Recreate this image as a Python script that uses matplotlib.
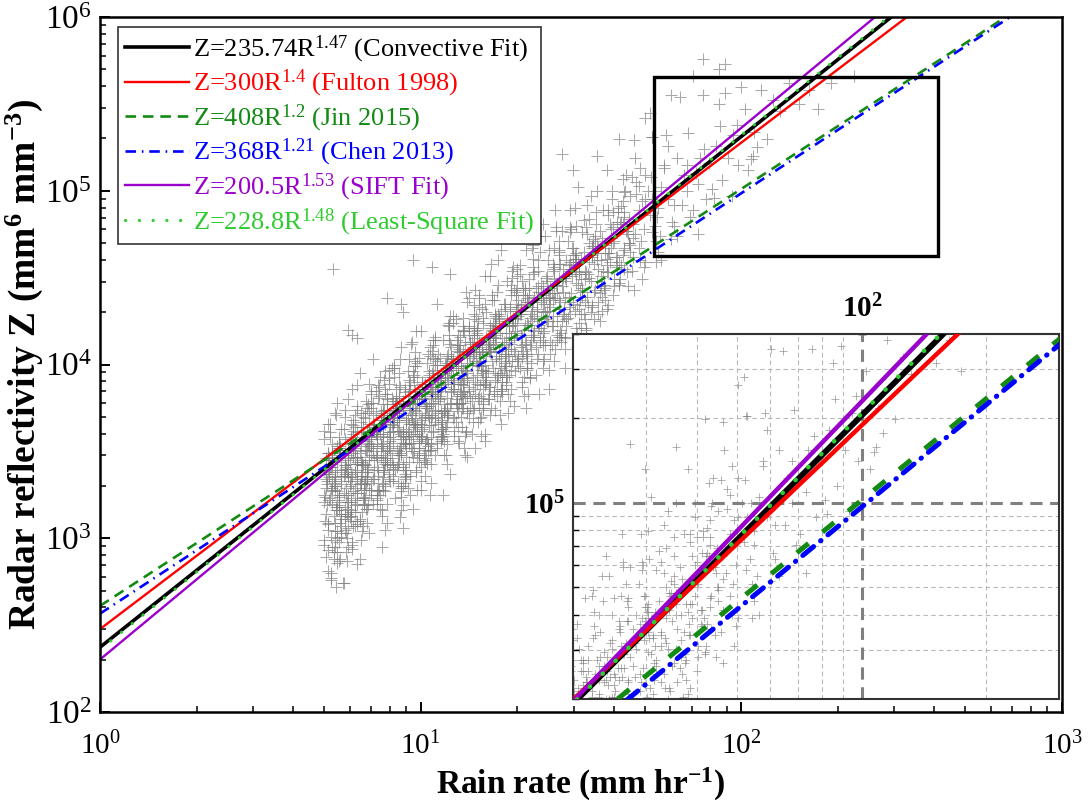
import numpy as np
import matplotlib
matplotlib.use("Agg")
import matplotlib.pyplot as plt
from matplotlib.patches import Rectangle
from matplotlib.ticker import NullFormatter

plt.rcParams['font.family'] = ['Liberation Serif', 'DejaVu Serif']
plt.rcParams['mathtext.fontset'] = 'custom'
plt.rcParams['mathtext.rm'] = 'Liberation Serif'
plt.rcParams['mathtext.it'] = 'Liberation Serif:italic'
plt.rcParams['mathtext.bf'] = 'Liberation Serif:bold'

# Z = a * R^b relations
coef_a = [235.74, 300, 408, 368, 200.5, 228.8]
coef_b = [1.47, 1.4, 1.2, 1.21, 1.53, 1.48]
sources = ['Convective Fit', 'Fulton 1998', 'Jin 2015', 'Chen 2013', 'SIFT Fit', 'Least-Square Fit']

# observed samples, log10 of rain rate (mm/hr) and reflectivity (mm^6 mm^-3)
rain_log10 = [
    0.720, 0.740, 0.710, 0.730, 0.700, 0.735, 0.715, 0.720, 0.740, 0.710, 0.730, 0.700, 0.735, 0.715, 0.720, 0.740, 0.710, 0.730, 0.700, 0.735, 0.715, 0.720, 0.740, 0.710, 0.730, 0.700, 0.735, 0.715, 0.720, 0.740,
    0.780, 0.750, 0.785, 0.765, 0.770, 0.790, 0.760, 0.780, 0.750, 0.785, 0.765, 0.770, 0.790, 0.760, 0.780, 0.750, 0.785, 0.765, 0.770, 0.790, 0.760, 0.780, 0.750, 0.785, 0.765, 0.770, 0.790, 0.760, 0.780, 0.750, 0.785, 0.765,
    0.815, 0.820, 0.840, 0.810, 0.830, 0.800, 0.835, 0.815, 0.820, 0.840, 0.810, 0.830, 0.800, 0.835, 0.815, 0.820, 0.840, 0.810, 0.830, 0.800, 0.835, 0.815, 0.820, 0.840, 0.810, 0.830, 0.800, 0.835, 0.815, 0.820, 0.840, 0.810,
    0.860, 0.880, 0.850, 0.885, 0.865, 0.870, 0.890, 0.860, 0.880, 0.850, 0.885, 0.865, 0.870, 0.890, 0.860, 0.880, 0.850, 0.885, 0.865, 0.870, 0.890, 0.860, 0.880, 0.850, 0.885, 0.865, 0.870, 0.890, 0.860, 0.880, 0.850, 0.885,
    0.935, 0.915, 0.920, 0.940, 0.910, 0.930, 0.900, 0.935, 0.915, 0.920, 0.940, 0.910, 0.930, 0.900, 0.935, 0.915, 0.920, 0.940, 0.910, 0.930, 0.900, 0.935, 0.915, 0.920, 0.940, 0.910, 0.930, 0.900, 0.935, 0.915, 0.920, 0.940,
    0.990, 0.960, 0.980, 0.950, 0.985, 0.965, 0.970, 0.990, 0.960, 0.980, 0.950, 0.985, 0.965, 0.970, 0.990, 0.960, 0.980, 0.950, 0.985, 0.965, 0.970, 0.990, 0.960, 0.980, 0.950, 0.985, 0.965, 0.970, 0.990, 0.960,
    1.000, 1.035, 1.015, 1.020, 1.040, 1.010, 1.030, 1.000, 1.035, 1.015, 1.020, 1.040, 1.010, 1.030, 1.000, 1.035, 1.015, 1.020, 1.040, 1.010, 1.030, 1.000, 1.035, 1.015, 1.020, 1.040, 1.010, 1.030, 1.000, 1.035,
    1.070, 1.090, 1.060, 1.080, 1.050, 1.085, 1.065, 1.070, 1.090, 1.060, 1.080, 1.050, 1.085, 1.065, 1.070, 1.090, 1.060, 1.080, 1.050, 1.085, 1.065, 1.070, 1.090, 1.060, 1.080, 1.050, 1.085, 1.065,
    1.130, 1.100, 1.135, 1.115, 1.120, 1.140, 1.110, 1.130, 1.100, 1.135, 1.115, 1.120, 1.140, 1.110, 1.130, 1.100, 1.135, 1.115, 1.120, 1.140, 1.110, 1.130, 1.100, 1.135, 1.115, 1.120, 1.140, 1.110,
    1.165, 1.170, 1.190, 1.160, 1.180, 1.150, 1.185, 1.165, 1.170, 1.190, 1.160, 1.180, 1.150, 1.185, 1.165, 1.170, 1.190, 1.160, 1.180, 1.150, 1.185, 1.165, 1.170, 1.190, 1.160, 1.180, 1.150,
    1.210, 1.230, 1.200, 1.235, 1.215, 1.220, 1.240, 1.210, 1.230, 1.200, 1.235, 1.215, 1.220, 1.240, 1.210, 1.230, 1.200, 1.235, 1.215, 1.220, 1.240, 1.210, 1.230, 1.200, 1.235, 1.215,
    1.285, 1.265, 1.270, 1.290, 1.260, 1.280, 1.250, 1.285, 1.265, 1.270, 1.290, 1.260, 1.280, 1.250, 1.285, 1.265, 1.270, 1.290, 1.260, 1.280, 1.250, 1.285, 1.265, 1.270, 1.290,
    1.340, 1.310, 1.330, 1.300, 1.335, 1.315, 1.320, 1.340, 1.310, 1.330, 1.300, 1.335, 1.315, 1.320, 1.340, 1.310, 1.330, 1.300, 1.335, 1.315, 1.320, 1.340, 1.310, 1.330,
    1.350, 1.385, 1.365, 1.370, 1.390, 1.360, 1.380, 1.350, 1.385, 1.365, 1.370, 1.390, 1.360, 1.380, 1.350, 1.385, 1.365, 1.370, 1.390, 1.360, 1.380, 1.350,
    1.420, 1.440, 1.410, 1.430, 1.400, 1.435, 1.415, 1.420, 1.440, 1.410, 1.430, 1.400, 1.435, 1.415, 1.420, 1.440, 1.410, 1.430, 1.400, 1.435, 1.415,
    1.480, 1.450, 1.485, 1.465, 1.470, 1.490, 1.460, 1.480, 1.450, 1.485, 1.465, 1.470, 1.490, 1.460, 1.480, 1.450, 1.485, 1.465, 1.470, 1.490,
    1.515, 1.520, 1.540, 1.510, 1.530, 1.500, 1.535, 1.515, 1.520, 1.540, 1.510, 1.530, 1.500, 1.535, 1.515, 1.520, 1.540, 1.510,
    1.560, 1.580, 1.550, 1.585, 1.565, 1.570, 1.590, 1.560, 1.580, 1.550, 1.585, 1.565, 1.570, 1.590, 1.560, 1.580, 1.550,
    1.635, 1.615, 1.620, 1.640, 1.610, 1.630, 1.600, 1.635, 1.615, 1.620, 1.640, 1.610, 1.630, 1.600, 1.635,
    1.690, 1.660, 1.680, 1.650, 1.685, 1.665, 1.670, 1.690, 1.660, 1.680, 1.650, 1.685, 1.665,
    1.700, 1.735, 1.715, 1.720, 1.740, 1.710, 1.730, 1.700, 1.735, 1.715, 1.720, 1.740,
    1.770, 1.790, 1.760, 1.780, 1.750, 1.785, 1.765, 1.770, 1.790, 1.760,
    1.830, 1.800, 1.835, 1.815, 1.820, 1.840, 1.810, 1.830, 1.800,
    1.865, 1.870, 1.890, 1.860, 1.880, 1.850, 1.885, 1.865,
    1.910, 1.930, 1.900, 1.935, 1.915, 1.920, 1.940,
    1.960, 1.985, 1.970, 1.950, 1.990, 1.975,
    2.010, 2.035, 2.000, 2.040, 2.020,
    0.727, 0.775, 0.800, 0.785, 0.895, 0.940, 0.945, 0.976, 1.035, 1.090, 1.240, 1.240, 1.440, 1.475, 1.490,
    0.710, 0.720, 0.757, 0.770, 0.800, 0.810, 0.880, 0.945, 0.976, 1.030, 1.070, 1.145,
    1.880, 1.930, 1.850, 1.950, 1.780, 1.700, 1.620, 1.550,
    2.060, 2.080, 2.100, 2.120, 2.150, 2.180, 2.210, 2.240, 2.280, 2.350, 2.030, 2.050,
    0.702, 0.708, 0.704, 0.712, 0.700, 0.706, 0.710, 0.702, 0.708, 0.704, 0.712, 0.700, 0.706, 0.710, 0.702, 0.708, 0.704, 0.712, 0.700, 0.706,
    0.745, 0.763, 0.733, 0.753, 0.725, 0.745, 0.763, 0.733, 0.753, 0.725, 0.745, 0.763, 0.733, 0.753, 0.725, 0.745, 0.763, 0.733, 0.753, 0.725, 0.745, 0.763, 0.733, 0.753, 0.725, 0.745, 0.763, 0.733, 0.753, 0.725, 0.745, 0.763, 0.733, 0.753, 0.725, 0.745,
    0.783, 0.803, 0.775, 0.795, 0.813, 0.783, 0.803, 0.775, 0.795, 0.813, 0.783, 0.803, 0.775, 0.795, 0.813, 0.783, 0.803, 0.775, 0.795, 0.813, 0.783, 0.803, 0.775, 0.795, 0.813, 0.783, 0.803, 0.775, 0.795, 0.813, 0.783, 0.803, 0.775, 0.795, 0.813, 0.783, 0.803, 0.775,
    0.825, 0.845, 0.863, 0.833, 0.853, 0.825, 0.845, 0.863, 0.833, 0.853, 0.825, 0.845, 0.863, 0.833, 0.853, 0.825, 0.845, 0.863, 0.833, 0.853, 0.825, 0.845, 0.863, 0.833, 0.853, 0.825, 0.845, 0.863, 0.833, 0.853, 0.825, 0.845, 0.863, 0.833, 0.853, 0.825, 0.845, 0.863,
    0.913, 0.883, 0.903, 0.875, 0.895, 0.913, 0.883, 0.903, 0.875, 0.895, 0.913, 0.883, 0.903, 0.875, 0.895, 0.913, 0.883, 0.903, 0.875, 0.895, 0.913, 0.883, 0.903, 0.875, 0.895, 0.913, 0.883, 0.903, 0.875, 0.895, 0.913, 0.883, 0.903, 0.875, 0.895, 0.913, 0.883, 0.903,
    0.953, 0.925, 0.945, 0.963, 0.933, 0.953, 0.925, 0.945, 0.963, 0.933, 0.953, 0.925, 0.945, 0.963, 0.933, 0.953, 0.925, 0.945, 0.963, 0.933, 0.953, 0.925, 0.945, 0.963, 0.933, 0.953, 0.925, 0.945, 0.963, 0.933, 0.953, 0.925, 0.945, 0.963, 0.933, 0.953,
    0.995, 1.013, 0.983, 1.003, 0.975, 0.995, 1.013, 0.983, 1.003, 0.975, 0.995, 1.013, 0.983, 1.003, 0.975, 0.995, 1.013, 0.983, 1.003, 0.975, 0.995, 1.013, 0.983, 1.003, 0.975, 0.995, 1.013, 0.983, 1.003, 0.975, 0.995, 1.013, 0.983, 1.003, 0.975, 0.995,
    1.033, 1.053, 1.025, 1.045, 1.063, 1.033, 1.053, 1.025, 1.045, 1.063, 1.033, 1.053, 1.025, 1.045, 1.063, 1.033, 1.053, 1.025, 1.045, 1.063, 1.033, 1.053, 1.025, 1.045, 1.063, 1.033, 1.053, 1.025, 1.045, 1.063, 1.033, 1.053, 1.025, 1.045,
    1.075, 1.095, 1.113, 1.083, 1.103, 1.075, 1.095, 1.113, 1.083, 1.103, 1.075, 1.095, 1.113, 1.083, 1.103, 1.075, 1.095, 1.113, 1.083, 1.103, 1.075, 1.095, 1.113, 1.083, 1.103, 1.075, 1.095, 1.113, 1.083, 1.103, 1.075, 1.095, 1.113, 1.083,
    1.163, 1.133, 1.153, 1.125, 1.145, 1.163, 1.133, 1.153, 1.125, 1.145, 1.163, 1.133, 1.153, 1.125, 1.145, 1.163, 1.133, 1.153, 1.125, 1.145, 1.163, 1.133, 1.153, 1.125, 1.145, 1.163, 1.133, 1.153, 1.125, 1.145, 1.163, 1.133,
    1.203, 1.175, 1.195, 1.213, 1.183, 1.203, 1.175, 1.195, 1.213, 1.183, 1.203, 1.175, 1.195, 1.213, 1.183, 1.203, 1.175, 1.195, 1.213, 1.183, 1.203, 1.175, 1.195, 1.213, 1.183, 1.203, 1.175, 1.195, 1.213, 1.183, 1.203, 1.175,
    1.245, 1.263, 1.233, 1.253, 1.225, 1.245, 1.263, 1.233, 1.253, 1.225, 1.245, 1.263, 1.233, 1.253, 1.225, 1.245, 1.263, 1.233, 1.253, 1.225, 1.245, 1.263, 1.233, 1.253, 1.225, 1.245, 1.263, 1.233, 1.253, 1.225,
    1.283, 1.303, 1.275, 1.295, 1.313, 1.283, 1.303, 1.275, 1.295, 1.313, 1.283, 1.303, 1.275, 1.295, 1.313, 1.283, 1.303, 1.275, 1.295, 1.313, 1.283, 1.303, 1.275, 1.295, 1.313, 1.283, 1.303, 1.275,
    1.325, 1.345, 1.363, 1.333, 1.353, 1.325, 1.345, 1.363, 1.333, 1.353, 1.325, 1.345, 1.363, 1.333, 1.353, 1.325, 1.345, 1.363, 1.333, 1.353, 1.325, 1.345, 1.363, 1.333, 1.353, 1.325,
    1.413, 1.383, 1.403, 1.375, 1.395, 1.413, 1.383, 1.403, 1.375, 1.395, 1.413, 1.383, 1.403, 1.375, 1.395, 1.413, 1.383, 1.403, 1.375, 1.395, 1.413, 1.383, 1.403, 1.375,
    1.453, 1.425, 1.445, 1.463, 1.433, 1.453, 1.425, 1.445, 1.463, 1.433, 1.453, 1.425, 1.445, 1.463, 1.433, 1.453, 1.425, 1.445, 1.463, 1.433, 1.453, 1.425,
    1.495, 1.513, 1.483, 1.503, 1.475, 1.495, 1.513, 1.483, 1.503, 1.475, 1.495, 1.513, 1.483, 1.503, 1.475, 1.495, 1.513, 1.483, 1.503, 1.475,
    1.533, 1.553, 1.525, 1.545, 1.563, 1.533, 1.553, 1.525, 1.545, 1.563, 1.533, 1.553, 1.525, 1.545, 1.563, 1.533, 1.553, 1.525,
    1.575, 1.595, 1.613, 1.583, 1.603, 1.575, 1.595, 1.613, 1.583, 1.603, 1.575, 1.595, 1.613, 1.583, 1.603, 1.575,
    1.663, 1.633, 1.653, 1.625, 1.645, 1.663, 1.633, 1.653, 1.625, 1.645, 1.663, 1.633, 1.653, 1.625,
    0.732, 0.746, 0.723, 0.738, 0.717, 0.751, 0.732, 0.746, 0.723, 0.738, 0.717, 0.751, 0.732, 0.746, 0.723, 0.738, 0.717, 0.751, 0.732, 0.746, 0.723, 0.738, 0.717, 0.751, 0.732, 0.746, 0.723, 0.738, 0.717, 0.751,
    0.796, 0.773, 0.788, 0.767, 0.801, 0.782, 0.796, 0.773, 0.788, 0.767, 0.801, 0.782, 0.796, 0.773, 0.788, 0.767, 0.801, 0.782, 0.796, 0.773, 0.788, 0.767, 0.801, 0.782, 0.796, 0.773, 0.788, 0.767, 0.801, 0.782, 0.796, 0.773,
    0.823, 0.838, 0.817, 0.851, 0.832, 0.846, 0.823, 0.838, 0.817, 0.851, 0.832, 0.846, 0.823, 0.838, 0.817, 0.851, 0.832, 0.846, 0.823, 0.838, 0.817, 0.851, 0.832, 0.846, 0.823, 0.838, 0.817, 0.851, 0.832, 0.846, 0.823, 0.838,
    0.888, 0.867, 0.901, 0.882, 0.896, 0.873, 0.888, 0.867, 0.901, 0.882, 0.896, 0.873, 0.888, 0.867, 0.901, 0.882, 0.896, 0.873, 0.888, 0.867, 0.901, 0.882, 0.896, 0.873, 0.888, 0.867, 0.901, 0.882, 0.896, 0.873, 0.888, 0.867,
    0.917, 0.951, 0.932, 0.946, 0.923, 0.938, 0.917, 0.951, 0.932, 0.946, 0.923, 0.938, 0.917, 0.951, 0.932, 0.946, 0.923, 0.938, 0.917, 0.951, 0.932, 0.946, 0.923, 0.938, 0.917, 0.951, 0.932, 0.946, 0.923, 0.938,
    1.001, 0.982, 0.996, 0.973, 0.988, 0.967, 1.001, 0.982, 0.996, 0.973, 0.988, 0.967, 1.001, 0.982, 0.996, 0.973, 0.988, 0.967, 1.001, 0.982, 0.996, 0.973, 0.988, 0.967, 1.001, 0.982, 0.996, 0.973, 0.988, 0.967,
    1.032, 1.046, 1.023, 1.038, 1.017, 1.051, 1.032, 1.046, 1.023, 1.038, 1.017, 1.051, 1.032, 1.046, 1.023, 1.038, 1.017, 1.051, 1.032, 1.046, 1.023, 1.038, 1.017, 1.051, 1.032, 1.046, 1.023, 1.038,
    1.096, 1.073, 1.088, 1.067, 1.101, 1.082, 1.096, 1.073, 1.088, 1.067, 1.101, 1.082, 1.096, 1.073, 1.088, 1.067, 1.101, 1.082, 1.096, 1.073, 1.088, 1.067, 1.101, 1.082, 1.096, 1.073, 1.088, 1.067,
    1.123, 1.138, 1.117, 1.151, 1.132, 1.146, 1.123, 1.138, 1.117, 1.151, 1.132, 1.146, 1.123, 1.138, 1.117, 1.151, 1.132, 1.146, 1.123, 1.138, 1.117, 1.151, 1.132, 1.146, 1.123, 1.138,
    1.188, 1.167, 1.201, 1.182, 1.196, 1.173, 1.188, 1.167, 1.201, 1.182, 1.196, 1.173, 1.188, 1.167, 1.201, 1.182, 1.196, 1.173, 1.188, 1.167, 1.201, 1.182, 1.196, 1.173, 1.188, 1.167,
    1.217, 1.251, 1.232, 1.246, 1.223, 1.238, 1.217, 1.251, 1.232, 1.246, 1.223, 1.238, 1.217, 1.251, 1.232, 1.246, 1.223, 1.238, 1.217, 1.251, 1.232, 1.246, 1.223, 1.238,
    1.301, 1.282, 1.296, 1.273, 1.288, 1.267, 1.301, 1.282, 1.296, 1.273, 1.288, 1.267, 1.301, 1.282, 1.296, 1.273, 1.288, 1.267, 1.301, 1.282, 1.296, 1.273,
    1.332, 1.346, 1.323, 1.338, 1.317, 1.351, 1.332, 1.346, 1.323, 1.338, 1.317, 1.351, 1.332, 1.346, 1.323, 1.338, 1.317, 1.351, 1.332, 1.346,
    1.396, 1.373, 1.388, 1.367, 1.401, 1.382, 1.396, 1.373, 1.388, 1.367, 1.401, 1.382, 1.396, 1.373, 1.388, 1.367, 1.401, 1.382,
    1.423, 1.438, 1.417, 1.451, 1.432, 1.446, 1.423, 1.438, 1.417, 1.451, 1.432, 1.446, 1.423, 1.438, 1.417, 1.451,
    1.488, 1.467, 1.501, 1.482, 1.496, 1.473, 1.488, 1.467, 1.501, 1.482, 1.496, 1.473, 1.488, 1.467,
    1.517, 1.551, 1.532, 1.546, 1.523, 1.538, 1.517, 1.551, 1.532, 1.546, 1.523, 1.538,
    1.601, 1.582, 1.596, 1.573, 1.588, 1.567, 1.601, 1.582, 1.596, 1.573,
    1.632, 1.646, 1.623, 1.638, 1.617, 1.651, 1.632, 1.646, 1.623,
    1.696, 1.673, 1.688, 1.667, 1.701, 1.682, 1.696, 1.673,
    1.723, 1.738, 1.717, 1.751, 1.732, 1.746, 1.723,
]
refl_log10 = [
    3.28, 3.04, 3.45, 2.88, 3.62, 3.16, 3.37, 2.77, 3.53, 3.09, 3.32, 2.96, 3.71, 3.22, 3.41, 2.86, 3.49, 3.13, 3.57, 2.72, 3.35, 3.01, 3.27, 3.66, 2.92, 3.39, 3.18, 3.47, 2.80, 3.78,
    3.30, 3.49, 2.94, 3.57, 3.21, 3.65, 2.74, 3.43, 3.09, 3.35, 3.74, 3.00, 3.47, 3.26, 3.55, 2.88, 3.86, 3.18, 3.38, 3.07, 3.63, 3.33, 3.51, 2.98, 3.42, 3.14, 3.68, 3.36, 3.12, 3.53, 2.96, 3.70,
    3.36, 3.64, 3.03, 3.95, 3.29, 3.47, 3.19, 3.72, 3.42, 3.60, 3.11, 3.51, 3.26, 3.77, 3.45, 3.23, 3.62, 3.10, 3.79, 3.34, 3.54, 2.99, 3.70, 3.28, 3.49, 3.17, 3.88, 3.40, 3.58, 3.07, 3.66, 3.31,
    3.85, 3.53, 3.34, 3.70, 3.22, 3.87, 3.43, 3.62, 3.13, 3.78, 3.38, 3.57, 3.28, 3.96, 3.48, 3.66, 3.20, 3.74, 3.41, 3.82, 3.05, 3.60, 3.32, 3.52, 3.91, 3.25, 3.64, 3.45, 3.72, 3.16, 4.03, 3.39,
    4.03, 3.55, 3.73, 3.27, 3.81, 3.48, 3.89, 3.12, 3.67, 3.39, 3.59, 3.98, 3.32, 3.71, 3.52, 3.79, 3.23, 4.10, 3.46, 3.62, 3.37, 3.87, 3.57, 3.75, 3.30, 3.66, 3.43, 3.92, 3.60, 3.41, 3.77, 3.29,
    3.80, 3.61, 3.88, 3.32, 4.19, 3.55, 3.71, 3.46, 3.96, 3.66, 3.84, 3.39, 3.75, 3.52, 4.01, 3.69, 3.50, 3.86, 3.38, 4.03, 3.59, 3.78, 3.29, 3.94, 3.54, 3.73, 3.44, 4.12, 3.64, 3.82,
    3.59, 4.08, 3.76, 3.57, 3.93, 3.45, 4.10, 3.66, 3.85, 3.36, 4.01, 3.61, 3.80, 3.51, 4.19, 3.71, 3.89, 3.43, 3.97, 3.64, 4.05, 3.28, 3.83, 3.55, 3.75, 4.14, 3.48, 3.87, 3.68, 3.95,
    3.60, 4.28, 3.80, 3.98, 3.52, 4.06, 3.73, 4.14, 3.37, 3.92, 3.64, 3.84, 4.23, 3.57, 3.96, 3.77, 4.04, 3.48, 4.35, 3.71, 3.87, 3.62, 4.12, 3.82, 4.00, 3.55, 3.91, 3.68,
    3.64, 4.03, 3.84, 4.11, 3.55, 4.42, 3.78, 3.94, 3.69, 4.19, 3.89, 4.07, 3.62, 3.98, 3.75, 4.24, 3.92, 3.73, 4.09, 3.61, 4.26, 3.82, 4.01, 3.52, 4.17, 3.77, 3.96, 3.67,
    4.06, 3.83, 4.32, 4.00, 3.81, 4.17, 3.69, 4.34, 3.90, 4.09, 3.60, 4.25, 3.85, 4.04, 3.75, 4.43, 3.95, 4.13, 3.67, 4.21, 3.88, 4.29, 3.52, 4.07, 3.79, 3.99, 4.38,
    4.12, 3.83, 4.51, 4.03, 4.21, 3.75, 4.29, 3.96, 4.37, 3.60, 4.15, 3.87, 4.07, 4.46, 3.80, 4.19, 4.00, 4.27, 3.71, 4.58, 3.94, 4.10, 3.85, 4.35, 4.05, 4.23,
    4.54, 3.88, 4.27, 4.08, 4.35, 3.79, 4.66, 4.02, 4.18, 3.93, 4.43, 4.13, 4.31, 3.86, 4.22, 3.99, 4.48, 4.16, 3.97, 4.33, 3.85, 4.50, 4.06, 4.25, 3.76,
    3.93, 4.29, 4.06, 4.55, 4.23, 4.04, 4.40, 3.92, 4.57, 4.13, 4.32, 3.83, 4.48, 4.08, 4.27, 3.98, 4.66, 4.18, 4.36, 3.90, 4.44, 4.11, 4.52, 3.75,
    4.16, 4.35, 4.06, 4.74, 4.26, 4.44, 3.98, 4.52, 4.19, 4.60, 3.83, 4.38, 4.10, 4.30, 4.69, 4.03, 4.42, 4.23, 4.50, 3.94, 4.81, 4.17,
    4.38, 4.77, 4.11, 4.50, 4.31, 4.58, 4.02, 4.89, 4.25, 4.41, 4.16, 4.66, 4.36, 4.54, 4.09, 4.45, 4.22, 4.71, 4.39, 4.20, 4.56,
    4.61, 4.16, 4.52, 4.29, 4.78, 4.46, 4.27, 4.63, 4.15, 4.80, 4.36, 4.55, 4.06, 4.71, 4.31, 4.50, 4.21, 4.89, 4.41, 4.59,
    4.79, 4.39, 4.58, 4.29, 4.97, 4.49, 4.67, 4.21, 4.75, 4.42, 4.83, 4.06, 4.61, 4.33, 4.53, 4.92, 4.26, 4.65,
    4.41, 4.61, 5.00, 4.34, 4.73, 4.54, 4.81, 4.25, 5.12, 4.48, 4.64, 4.39, 4.89, 4.59, 4.77, 4.32, 4.68,
    4.67, 4.88, 4.47, 4.77, 4.57, 5.07, 4.70, 4.55, 4.90, 4.46, 5.09, 4.62, 4.81, 4.40, 4.99,
    4.49, 5.08, 4.67, 4.84, 4.60, 5.29, 4.75, 4.94, 4.54, 5.03, 4.70, 5.13, 4.43,
    4.95, 4.71, 4.86, 5.31, 4.65, 5.00, 4.80, 5.09, 4.59, 5.45, 4.76, 4.90,
    5.26, 4.92, 5.13, 4.72, 5.02, 4.82, 5.32, 4.95, 4.80, 5.15,
    5.15, 4.74, 5.33, 4.92, 5.09, 4.85, 5.54, 5.00, 5.19,
    4.75, 5.19, 4.95, 5.10, 5.55, 4.89, 5.24, 5.04,
    5.01, 5.50, 5.16, 5.37, 4.96, 5.26, 5.06,
    5.19, 5.38, 4.97, 5.56, 5.15, 5.32,
    5.47, 5.20, 5.60, 5.34, 5.12,
    4.55, 4.20, 4.15, 4.17, 4.38, 4.35, 4.30, 4.60, 4.56, 4.52, 4.60, 5.49, 5.21, 5.12, 5.02,
    2.81, 2.76, 2.74, 2.87, 2.85, 2.88, 2.95, 3.06, 3.17, 3.25, 3.25, 3.47,
    5.76, 5.70, 5.66, 5.73, 5.55, 5.42, 5.30, 5.20,
    5.58, 5.30, 5.52, 5.46, 5.62, 5.50, 5.58, 5.47, 5.62, 5.66, 5.18, 5.25,
    3.10, 3.31, 2.89, 3.38, 3.21, 3.46, 3.05, 3.24, 3.33, 3.14, 3.49, 2.99, 3.29, 3.08, 3.40, 3.19, 3.34, 2.93, 3.25, 3.37,
    3.24, 3.42, 3.04, 3.33, 3.48, 3.16, 3.37, 2.95, 3.44, 3.27, 3.52, 3.11, 3.30, 3.39, 3.20, 3.55, 3.05, 3.35, 3.14, 3.46, 3.25, 3.40, 2.99, 3.31, 3.43, 3.18, 3.49, 3.09, 3.36, 3.29, 3.58, 3.13, 3.34, 3.01, 3.41, 3.22,
    3.21, 3.39, 3.48, 3.29, 3.64, 3.16, 3.44, 3.25, 3.55, 3.34, 3.49, 3.10, 3.40, 3.52, 3.28, 3.58, 3.20, 3.45, 3.38, 3.67, 3.23, 3.43, 3.13, 3.50, 3.32, 3.54, 3.33, 3.51, 3.15, 3.42, 3.57, 3.26, 3.46, 3.07, 3.53, 3.37, 3.61, 3.21,
    3.23, 3.48, 3.60, 3.38, 3.66, 3.31, 3.53, 3.46, 3.75, 3.34, 3.51, 3.25, 3.58, 3.41, 3.62, 3.42, 3.59, 3.27, 3.50, 3.65, 3.36, 3.54, 3.20, 3.61, 3.45, 3.69, 3.32, 3.47, 3.56, 3.39, 3.72, 3.28, 3.52, 3.35, 3.63, 3.43, 3.57, 3.23,
    3.33, 3.66, 3.49, 3.70, 3.50, 3.67, 3.35, 3.58, 3.73, 3.44, 3.62, 3.28, 3.69, 3.53, 3.77, 3.40, 3.55, 3.64, 3.47, 3.80, 3.36, 3.60, 3.43, 3.71, 3.51, 3.65, 3.31, 3.56, 3.68, 3.46, 3.74, 3.39, 3.61, 3.54, 3.83, 3.42, 3.59, 3.33,
    3.36, 3.77, 3.61, 3.85, 3.48, 3.63, 3.72, 3.55, 3.88, 3.44, 3.68, 3.51, 3.79, 3.59, 3.73, 3.39, 3.64, 3.76, 3.54, 3.82, 3.47, 3.69, 3.62, 3.91, 3.50, 3.67, 3.41, 3.74, 3.57, 3.78, 3.58, 3.75, 3.43, 3.66, 3.81, 3.52,
    3.59, 3.87, 3.67, 3.81, 3.47, 3.72, 3.84, 3.62, 3.90, 3.55, 3.77, 3.70, 3.99, 3.58, 3.75, 3.49, 3.82, 3.65, 3.86, 3.66, 3.83, 3.51, 3.74, 3.89, 3.60, 3.78, 3.44, 3.85, 3.69, 3.93, 3.56, 3.71, 3.80, 3.63, 3.96, 3.52,
    3.77, 4.06, 3.65, 3.82, 3.56, 3.89, 3.72, 3.93, 3.73, 3.90, 3.58, 3.81, 3.96, 3.67, 3.85, 3.51, 3.92, 3.76, 4.00, 3.63, 3.78, 3.87, 3.70, 4.03, 3.59, 3.83, 3.66, 3.94, 3.74, 3.88, 3.54, 3.79, 3.91, 3.69,
    3.89, 4.04, 3.75, 3.93, 3.59, 4.00, 3.84, 4.08, 3.71, 3.86, 3.95, 3.78, 4.11, 3.67, 3.91, 3.74, 4.02, 3.82, 3.96, 3.62, 3.87, 3.99, 3.77, 4.05, 3.70, 3.92, 3.85, 4.14, 3.73, 3.90, 3.64, 3.97, 3.80, 4.01,
    3.86, 4.19, 3.75, 3.99, 3.82, 4.10, 3.90, 4.04, 3.70, 3.95, 4.07, 3.85, 4.13, 3.78, 4.00, 3.93, 4.22, 3.81, 3.98, 3.72, 4.05, 3.88, 4.09, 3.89, 4.06, 3.74, 3.97, 4.12, 3.83, 4.01, 3.67, 4.08,
    3.93, 4.21, 3.86, 4.08, 4.01, 4.30, 3.89, 4.06, 3.80, 4.13, 3.96, 4.17, 3.97, 4.14, 3.82, 4.05, 4.20, 3.91, 4.09, 3.75, 4.16, 4.00, 4.24, 3.87, 4.02, 4.11, 3.94, 4.27, 3.83, 4.07, 3.90, 4.18,
    4.25, 4.05, 4.22, 3.90, 4.13, 4.28, 3.99, 4.17, 3.83, 4.24, 4.08, 4.32, 3.95, 4.10, 4.19, 4.02, 4.35, 3.91, 4.15, 3.98, 4.26, 4.06, 4.20, 3.86, 4.11, 4.23, 4.01, 4.29, 3.94, 4.16,
    4.40, 4.03, 4.18, 4.27, 4.10, 4.43, 3.99, 4.23, 4.06, 4.34, 4.14, 4.28, 3.94, 4.19, 4.31, 4.09, 4.37, 4.02, 4.24, 4.17, 4.46, 4.05, 4.22, 3.96, 4.29, 4.12, 4.33, 4.13,
    4.35, 4.01, 4.26, 4.38, 4.16, 4.44, 4.09, 4.31, 4.24, 4.53, 4.12, 4.29, 4.03, 4.36, 4.19, 4.40, 4.20, 4.37, 4.05, 4.28, 4.43, 4.14, 4.32, 3.98, 4.39, 4.23,
    4.37, 4.11, 4.44, 4.27, 4.48, 4.28, 4.45, 4.13, 4.36, 4.51, 4.22, 4.40, 4.06, 4.47, 4.31, 4.55, 4.18, 4.33, 4.42, 4.25, 4.58, 4.14, 4.38, 4.21,
    4.48, 4.14, 4.55, 4.39, 4.63, 4.26, 4.41, 4.50, 4.33, 4.66, 4.22, 4.46, 4.29, 4.57, 4.37, 4.51, 4.17, 4.42, 4.54, 4.32, 4.60, 4.25,
    4.53, 4.36, 4.64, 4.44, 4.58, 4.24, 4.49, 4.61, 4.39, 4.67, 4.32, 4.54, 4.47, 4.76, 4.35, 4.52, 4.26, 4.59, 4.42, 4.63,
    4.62, 4.55, 4.84, 4.43, 4.60, 4.34, 4.67, 4.50, 4.71, 4.51, 4.68, 4.36, 4.59, 4.74, 4.45, 4.63, 4.29, 4.70,
    4.44, 4.67, 4.82, 4.53, 4.71, 4.37, 4.78, 4.62, 4.86, 4.49, 4.64, 4.73, 4.56, 4.89, 4.45, 4.69,
    4.81, 4.66, 4.97, 4.57, 4.77, 4.62, 4.88, 4.69, 4.82, 4.53, 4.73, 4.85, 4.65, 4.91,
    3.38, 2.98, 3.54, 3.21, 3.66, 3.07, 3.30, 2.87, 3.45, 3.16, 3.61, 3.03, 3.36, 3.25, 3.49, 2.92, 3.41, 3.11, 3.72, 3.19, 3.33, 3.00, 3.58, 3.14, 3.28, 3.52, 2.95, 3.39, 3.23, 3.63,
    3.19, 3.80, 3.27, 3.41, 3.08, 3.66, 3.22, 3.36, 3.60, 3.03, 3.47, 3.31, 3.71, 3.17, 3.51, 2.92, 3.43, 3.13, 3.64, 3.35, 3.55, 3.25, 3.76, 3.10, 3.46, 3.06, 3.62, 3.29, 3.74, 3.15, 3.38, 2.95,
    3.22, 3.73, 3.44, 3.64, 3.34, 3.85, 3.19, 3.55, 3.15, 3.71, 3.38, 3.83, 3.24, 3.47, 3.04, 3.62, 3.33, 3.78, 3.20, 3.53, 3.42, 3.66, 3.09, 3.58, 3.28, 3.89, 3.36, 3.50, 3.17, 3.75, 3.31, 3.45,
    3.86, 3.28, 3.61, 3.50, 3.74, 3.17, 3.66, 3.36, 3.97, 3.44, 3.58, 3.25, 3.83, 3.39, 3.53, 3.77, 3.20, 3.64, 3.48, 3.88, 3.34, 3.68, 3.09, 3.60, 3.30, 3.81, 3.52, 3.72, 3.42, 3.93, 3.27, 3.63,
    3.71, 3.55, 3.95, 3.41, 3.75, 3.16, 3.67, 3.37, 3.88, 3.59, 3.79, 3.49, 4.00, 3.34, 3.70, 3.30, 3.86, 3.53, 3.98, 3.39, 3.62, 3.19, 3.77, 3.48, 3.93, 3.35, 3.68, 3.57, 3.81, 3.24,
    3.62, 4.07, 3.48, 3.71, 3.28, 3.86, 3.57, 4.02, 3.44, 3.77, 3.66, 3.90, 3.33, 3.82, 3.52, 4.13, 3.60, 3.74, 3.41, 3.99, 3.55, 3.69, 3.93, 3.36, 3.80, 3.64, 4.04, 3.50, 3.84, 3.25,
    3.81, 3.48, 4.06, 3.62, 3.76, 4.00, 3.43, 3.87, 3.71, 4.11, 3.57, 3.91, 3.32, 3.83, 3.53, 4.04, 3.75, 3.95, 3.65, 4.16, 3.50, 3.86, 3.46, 4.02, 3.69, 4.14, 3.55, 3.78,
    4.03, 3.73, 4.24, 3.58, 3.94, 3.54, 4.10, 3.77, 4.22, 3.63, 3.86, 3.43, 4.01, 3.72, 4.17, 3.59, 3.92, 3.81, 4.05, 3.48, 3.97, 3.67, 4.28, 3.75, 3.89, 3.56, 4.14, 3.70,
    3.89, 4.13, 3.56, 4.05, 3.75, 4.36, 3.83, 3.97, 3.64, 4.22, 3.78, 3.92, 4.16, 3.59, 4.03, 3.87, 4.27, 3.73, 4.07, 3.48, 3.99, 3.69, 4.20, 3.91, 4.11, 3.81,
    3.81, 4.15, 3.56, 4.07, 3.77, 4.28, 3.99, 4.19, 3.89, 4.40, 3.74, 4.10, 3.70, 4.26, 3.93, 4.38, 3.79, 4.02, 3.59, 4.17, 3.88, 4.33, 3.75, 4.08, 3.97, 4.21,
    4.09, 3.66, 4.24, 3.95, 4.40, 3.82, 4.15, 4.04, 4.28, 3.71, 4.20, 3.90, 4.51, 3.98, 4.12, 3.79, 4.37, 3.93, 4.07, 4.31, 3.74, 4.18, 4.02, 4.42,
    4.02, 4.16, 4.40, 3.83, 4.27, 4.11, 4.51, 3.97, 4.31, 3.72, 4.23, 3.93, 4.44, 4.15, 4.35, 4.05, 4.56, 3.90, 4.26, 3.86, 4.42, 4.09,
    3.97, 4.33, 3.93, 4.49, 4.16, 4.61, 4.02, 4.25, 3.82, 4.40, 4.11, 4.56, 3.98, 4.31, 4.20, 4.44, 3.87, 4.36, 4.06, 4.67,
    4.43, 4.13, 4.74, 4.21, 4.35, 4.02, 4.60, 4.16, 4.30, 4.54, 3.97, 4.41, 4.25, 4.65, 4.11, 4.45, 3.86, 4.37,
    4.46, 4.16, 4.67, 4.38, 4.58, 4.28, 4.79, 4.13, 4.49, 4.09, 4.65, 4.32, 4.77, 4.18, 4.41, 3.98,
    4.34, 4.79, 4.21, 4.54, 4.43, 4.67, 4.10, 4.59, 4.29, 4.90, 4.37, 4.51, 4.18, 4.76,
    4.20, 4.64, 4.48, 4.88, 4.34, 4.68, 4.09, 4.60, 4.30, 4.81, 4.52, 4.72,
    4.88, 4.57, 5.00, 4.46, 4.64, 4.31, 4.79, 4.53, 4.95, 4.43,
    4.63, 4.75, 4.49, 5.00, 4.59, 4.70, 4.94, 4.45, 4.81,
    4.78, 4.98, 4.71, 5.19, 4.59, 4.89, 4.56, 5.05,
    4.95, 4.85, 5.08, 4.60, 5.00, 4.74, 5.31,
]

rain = 10 ** np.array(rain_log10)
refl = 10 ** np.array(refl_log10)

colors = ['black', '#ff0000', '#138a13', '#0000ff', '#9a00cc', '#2ecc2e']
main_style = [
    dict(lw=2.6),
    dict(lw=1.7),
    dict(lw=1.9, dashes=(4, 2.6)),
    dict(lw=1.9, dashes=(4, 2.2, 0.6, 2.2)),
    dict(lw=1.7),
    dict(lw=2.2, dashes=(0.1, 4.4), dash_capstyle='round'),
]
inset_style = [
    dict(lw=4.2),
    dict(lw=3.2),
    dict(lw=3.6, dashes=(3, 3.6)),
    dict(lw=3.6, dashes=(2.8, 1.8, 0.1, 1.8), dash_capstyle='round'),
    dict(lw=3.2),
    dict(lw=3.2, dashes=(0.1, 4.0), dash_capstyle='round'),
]

r_line = np.array([1.0, 1000.0])

fig = plt.figure(figsize=(10.89, 8.02), dpi=100)
ax = fig.add_axes([0.0918, 0.1122, 0.8834, 0.8666])

ax.plot(rain, refl, ls='none', marker='+', ms=8.5, mew=0.75, color='#7c7c7c', alpha=0.65, zorder=1)

handles = []
for a, b, name, c, st in zip(coef_a, coef_b, sources, colors, main_style):
    label = f'Z={a:g}R$^{{{b:g}}}$ ({name})'
    h, = ax.plot(r_line, a * r_line ** b, color=c, label=label, zorder=2, **st)
    handles.append(h)

ax.add_patch(Rectangle((53.4, 4.23e4), 410 - 53.4, 4.52e5 - 4.23e4,
                       fill=False, ec='black', lw=2.4, zorder=4))

ax.set_xscale('log')
ax.set_yscale('log')
ax.set_xlim(1, 1000)
ax.set_ylim(100, 1e6)
ax.tick_params(which='both', direction='in', top=False, right=False)
ax.tick_params(which='major', length=7, width=1.4)
ax.tick_params(which='minor', length=4, width=1.1)
ax.tick_params(axis='x', which='major', labelsize=21, pad=14)
ax.tick_params(axis='y', which='major', labelsize=24, pad=6)
for sp in ax.spines.values():
    sp.set_linewidth(1.8)

ax.set_xlabel(r'Rain rate (mm hr$^{\mathbf{-1}}$)', fontsize=24, fontweight='bold', labelpad=4)
ax.set_ylabel(r'Radar reflectivity Z (mm$^{\mathbf{6}}$ mm$^{\mathbf{-3}}$)', fontsize=27,
              fontweight='bold', labelpad=0)

leg = ax.legend(handles=handles, loc='upper left', bbox_to_anchor=(0.0187, 0.9856),
                borderaxespad=0, fontsize=19, handlelength=2.45, handletextpad=0.15,
                labelspacing=0.12, borderpad=0.25, fancybox=False, framealpha=1,
                edgecolor='#333333')
leg.get_frame().set_linewidth(1.2)
leg.set_zorder(6)
for txt, c in zip(leg.get_texts(), colors):
    txt.set_color(c)

# zoomed view of the high-intensity end
axin = fig.add_axes([0.5262, 0.1284, 0.4463, 0.4551])
axin.plot(rain, refl, ls='none', marker='+', ms=5.5, mew=0.55, color='#7c7c7c', alpha=0.75, zorder=1)
for a, b, c, st in zip(coef_a, coef_b, colors, inset_style):
    axin.plot(r_line, a * r_line ** b, color=c, zorder=3, **st)

axin.set_xscale('log')
axin.set_yscale('log')
axin.set_xlim(20, 300)
axin.set_ylim(2e4, 4e5)
axin.grid(which='minor', ls=(0, (4, 3)), color='#b8b8b8', lw=0.8, zorder=0)
axin.axvline(100, color='#808080', lw=2.2, dashes=(4, 2.5), zorder=2)
axin.axhline(1e5, color='#808080', lw=2.2, dashes=(4, 2.5), zorder=2)
axin.set_xticks([100], [r'$\mathbf{10^2}$'])
axin.set_yticks([1e5], [r'$\mathbf{10^5}$'])
axin.xaxis.set_minor_formatter(NullFormatter())
axin.yaxis.set_minor_formatter(NullFormatter())
axin.tick_params(axis='x', which='both', bottom=False, top=False, labelbottom=False,
                 labeltop=True, labelsize=21, pad=4)
axin.tick_params(axis='y', which='both', direction='in', left=True, right=False,
                 labelsize=21, pad=6)
axin.tick_params(axis='y', which='minor', length=4, width=1.0)
axin.tick_params(axis='y', which='major', length=0)
for sp in axin.spines.values():
    sp.set_linewidth(1.5)
    sp.set_color('#333333')

fig.savefig('out.png', dpi=100)
